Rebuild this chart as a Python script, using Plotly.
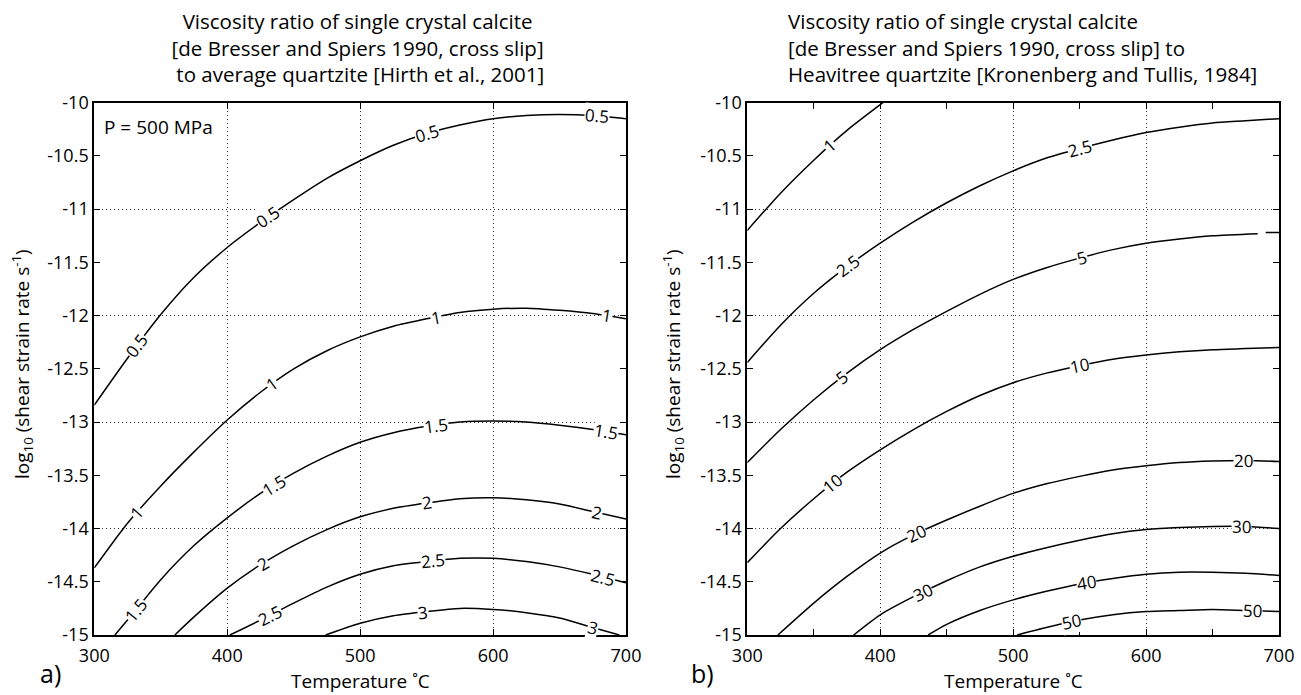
import numpy as np
import plotly.graph_objects as go

# ---------------- data ----------------
x_ticks = [300, 400, 500, 600, 700]
x_ticktext = ["300", "400", "500", "600", "700"]
x_minor_ticks = [350, 450, 550, 650]
y_ticks = [-15, -14.5, -14, -13.5, -13, -12.5, -12, -11.5, -11, -10.5, -10]
y_ticktext = ["-15", "-14.5", "-14", "-13.5", "-13", "-12.5", "-12", "-11.5", "-11", "-10.5", "-10"]
y_grid = [-15, -14, -13, -12, -11, -10]

# panel a) contours: ratio to average quartzite
a_levels = ["0.5", "1", "1.5", "2", "2.5", "3"]
a_T_05 = [300, 325, 350, 375, 400, 425, 450, 475, 500, 525, 550, 575, 600, 625, 650, 675, 700]
a_v_05 = [-12.84, -12.40, -11.99, -11.64, -11.36, -11.125, -10.91, -10.71, -10.545, -10.40, -10.29,
          -10.21, -10.15, -10.12, -10.11, -10.12, -10.15]
a_T_1 = [300, 325, 350, 375, 400, 425, 450, 475, 500, 525, 550, 575, 600, 625, 650, 675, 700]
a_v_1 = [-14.37, -13.95, -13.60, -13.28, -12.98, -12.72, -12.50, -12.33, -12.20, -12.10, -12.03,
         -11.97, -11.94, -11.93, -11.95, -11.98, -12.03]
a_T_15 = [315.5, 325, 350, 375, 400, 425, 450, 475, 500, 525, 550, 575, 600, 625, 650, 675, 700]
a_v_15 = [-15, -14.86, -14.48, -14.16, -13.90, -13.67, -13.48, -13.32, -13.19, -13.10, -13.04,
          -13.00, -12.99, -13.00, -13.03, -13.07, -13.12]
a_T_2 = [360.6, 375, 400, 425, 450, 475, 500, 525, 550, 575, 600, 625, 650, 675, 700]
a_v_2 = [-15, -14.83, -14.56, -14.34, -14.16, -14.01, -13.89, -13.81, -13.76, -13.72, -13.71,
         -13.73, -13.77, -13.84, -13.91]
a_T_25 = [402, 425, 450, 475, 500, 525, 550, 575, 600, 625, 650, 675, 700]
a_v_25 = [-15, -14.86, -14.70, -14.55, -14.43, -14.35, -14.31, -14.28, -14.28, -14.31, -14.36,
          -14.43, -14.51]
a_T_3 = [474, 500, 525, 550, 575, 600, 625, 650, 675, 695]
a_v_3 = [-15, -14.89, -14.82, -14.78, -14.75, -14.76, -14.79, -14.84, -14.93, -15]
a_lab_05 = [332, 431, 550, 678]
a_lab_1 = [332, 434, 557, 686]
a_lab_15 = [331, 435, 557, 685]
a_lab_2 = [427, 550, 678]
a_lab_25 = [432, 555, 683]
a_lab_3 = [547, 675]

# panel b) contours: ratio to Heavitree quartzite
b_levels = ["1", "2.5", "5", "10", "20", "30", "40", "50"]
b_T_1 = [300, 325, 350, 375, 402]
b_v_1 = [-11.20, -10.85, -10.54, -10.26, -10.0]
b_T_25 = [300, 325, 350, 375, 400, 425, 450, 475, 500, 525, 550, 575, 600, 625, 650, 675, 700]
b_v_25 = [-12.44, -12.09, -11.79, -11.54, -11.32, -11.12, -10.94, -10.78, -10.64, -10.52, -10.43,
          -10.35, -10.28, -10.23, -10.19, -10.17, -10.15]
b_T_5 = [300, 325, 350, 375, 400, 425, 450, 475, 500, 525, 550, 575, 600, 625, 650, 684, None, 690, 700]
b_v_5 = [-13.38, -13.07, -12.79, -12.54, -12.32, -12.13, -11.96, -11.80, -11.66, -11.55, -11.46,
         -11.38, -11.32, -11.28, -11.25, -11.23, None, -11.22, -11.22]
b_T_10 = [300, 325, 350, 375, 400, 425, 450, 475, 500, 525, 550, 575, 600, 625, 650, 675, 700]
b_v_10 = [-14.32, -14.0, -13.72, -13.47, -13.26, -13.07, -12.90, -12.75, -12.63, -12.54, -12.47,
          -12.41, -12.37, -12.34, -12.32, -12.31, -12.30]
b_T_20 = [323, 350, 375, 400, 425, 450, 475, 500, 525, 550, 575, 600, 625, 650, 675, 700]
b_v_20 = [-15, -14.70, -14.45, -14.23, -14.06, -13.92, -13.79, -13.67, -13.58, -13.51, -13.45,
          -13.41, -13.38, -13.365, -13.36, -13.37]
b_T_30 = [380, 400, 425, 450, 475, 500, 525, 550, 575, 600, 625, 650, 675, 700]
b_v_30 = [-15, -14.81, -14.64, -14.49, -14.36, -14.26, -14.18, -14.11, -14.05, -14.01, -13.99,
          -13.98, -13.98, -14.0]
b_T_40 = [436, 450, 475, 500, 525, 550, 575, 600, 625, 650, 675, 700]
b_v_40 = [-15, -14.90, -14.77, -14.67, -14.59, -14.52, -14.47, -14.43, -14.41, -14.41, -14.42, -14.44]
b_T_50 = [503, 525, 550, 575, 600, 625, 650, 675, 700]
b_v_50 = [-15, -14.93, -14.86, -14.81, -14.78, -14.77, -14.76, -14.77, -14.78]
b_lab_1 = [362]
b_lab_25 = [376, 550]
b_lab_5 = [371, 552]
b_lab_10 = [364, 550]
b_lab_20 = [427, 673]
b_lab_30 = [432, 672]
b_lab_40 = [555]
b_lab_50 = [544, 680]

title_a = "Viscosity ratio of single crystal calcite<br>[de Bresser and Spiers 1990, cross slip]<br> to average quartzite [Hirth et al., 2001]"
title_b = "Viscosity ratio of single crystal calcite<br>[de Bresser and Spiers 1990, cross slip] to<br>Heavitree quartzite [Kronenberg and Tullis, 1984]"

# ---------------- layout geometry ----------------
W, H = 1301, 695
FONT = "Open Sans"
dom_a = [94.3 / W, 626.0 / W]
dom_b = [747.3 / W, 1279.0 / W]
dom_y = [1 - 635.0 / H, 1 - 102.7 / H]
x_range = [300, 700]
y_range = [-15, -10]
sx = (dom_a[1] - dom_a[0]) * W / (x_range[1] - x_range[0])
sy = (dom_y[1] - dom_y[0]) * H / (y_range[1] - y_range[0])

fig = go.Figure()
annotations = []

panels = [
    ("x", "y", a_levels,
     [(a_T_05, a_v_05, a_lab_05), (a_T_1, a_v_1, a_lab_1), (a_T_15, a_v_15, a_lab_15),
      (a_T_2, a_v_2, a_lab_2), (a_T_25, a_v_25, a_lab_25), (a_T_3, a_v_3, a_lab_3)]),
    ("x2", "y2", b_levels,
     [(b_T_1, b_v_1, b_lab_1), (b_T_25, b_v_25, b_lab_25), (b_T_5, b_v_5, b_lab_5),
      (b_T_10, b_v_10, b_lab_10), (b_T_20, b_v_20, b_lab_20), (b_T_30, b_v_30, b_lab_30),
      (b_T_40, b_v_40, b_lab_40), (b_T_50, b_v_50, b_lab_50)]),
]

for xa, ya, levels, curves in panels:
    for lev, (Ts, vs, labs) in zip(levels, curves):
        fig.add_trace(go.Scatter(x=Ts, y=vs, xaxis=xa, yaxis=ya, mode="lines",
                                 line=dict(color="black", width=1.5, shape="spline", smoothing=0.7),
                                 connectgaps=False, hoverinfo="skip", showlegend=False))
        tt = np.array([t for t in Ts if t is not None], dtype=float)
        vv = np.array([v for v in vs if v is not None], dtype=float)
        for tl in labs:
            yl = float(np.interp(tl, tt, vv))
            dv = float(np.interp(tl + 5, tt, vv) - np.interp(tl - 5, tt, vv))
            ang = -np.degrees(np.arctan2(dv * sy, 10 * sx))
            annotations.append(dict(x=tl, y=yl, xref=xa, yref=ya, text=lev, showarrow=False,
                                    textangle=float(ang), bgcolor="white", borderpad=0,
                                    font=dict(family=FONT, size=17, color="black")))

# dummy traces so the grid overlay axes are active
fig.add_trace(go.Scatter(x=[None], y=[None], xaxis="x", yaxis="y3", showlegend=False, hoverinfo="skip"))
fig.add_trace(go.Scatter(x=[None], y=[None], xaxis="x2", yaxis="y4", showlegend=False, hoverinfo="skip"))

tickfont = dict(family=FONT, size=18, color="black")
grid_dash = "1px,3px"


def xaxis(domain, anchor, minor):
    d = dict(domain=domain, anchor=anchor, range=x_range, tickmode="array", tickvals=x_ticks,
             ticktext=x_ticktext, ticks="inside", ticklen=6, tickwidth=1, tickcolor="black",
             showline=True, linewidth=2, linecolor="black", mirror="ticks",
             showgrid=True, gridcolor="#333", griddash=grid_dash, gridwidth=1,
             zeroline=False, tickfont=tickfont, automargin=False, fixedrange=True,
             ticklabelstandoff=3)
    if minor:
        d["minor"] = dict(tickmode="array", tickvals=x_minor_ticks, ticks="inside", ticklen=6,
                          tickwidth=1, tickcolor="black", showgrid=False)
    return d


def yaxis(anchor):
    return dict(domain=dom_y, anchor=anchor, range=y_range, tickmode="array", tickvals=y_ticks,
                ticktext=y_ticktext, ticks="inside", ticklen=6, tickwidth=1, tickcolor="black",
                showline=True, linewidth=2, linecolor="black", mirror="ticks", showgrid=False,
                zeroline=False, tickfont=tickfont, automargin=False, fixedrange=True)


def ygrid(over, anchor):
    return dict(overlaying=over, anchor=anchor, range=y_range, tickmode="array", tickvals=y_grid,
                showticklabels=False, ticks="", showline=False, showgrid=True, gridcolor="#333",
                griddash=grid_dash, gridwidth=1, zeroline=False, fixedrange=True)


def px_x(p):
    return p / W


def px_y(p):
    return 1 - p / H


def ann(x, y, text, size, **kw):
    d = dict(x=px_x(x), y=px_y(y), xref="paper", yref="paper", showarrow=False, text=text,
             xanchor="center", yanchor="middle", font=dict(family=FONT, size=size, color="black"))
    d.update(kw)
    return d


annotations.append(ann(357, 48, title_a, 20.5, align="center"))
annotations.append(ann(1022, 48, title_b, 20.5, align="left"))
for cx in (360, 1013):
    annotations.append(ann(cx, 681, "Temperature ˚C", 19))
for cx in (22, 673):
    annotations.append(ann(cx, 364, "log<sub>10</sub> (shear strain rate s<sup>-1</sup>)", 19,
                           textangle=-90))
annotations.append(ann(50, 673, "a)", 25))
annotations.append(ann(702, 673, "b)", 25))
annotations.append(ann(102, 127, "P = 500 MPa", 19, xanchor="left"))

fig.update_layout(
    width=W, height=H, margin=dict(l=0, r=0, t=0, b=0, pad=0),
    paper_bgcolor="white", plot_bgcolor="white", showlegend=False,
    font=dict(family=FONT, color="black"),
    xaxis=xaxis(dom_a, "y", False),
    yaxis=yaxis("x"),
    xaxis2=xaxis(dom_b, "y2", True),
    yaxis2=yaxis("x2"),
    yaxis3=ygrid("y", "x"),
    yaxis4=ygrid("y2", "x2"),
    annotations=annotations,
)

fig.write_html("out.html", config={"displayModeBar": False},
               post_script="document.body.style.margin='0px';document.body.style.padding='0px';")
